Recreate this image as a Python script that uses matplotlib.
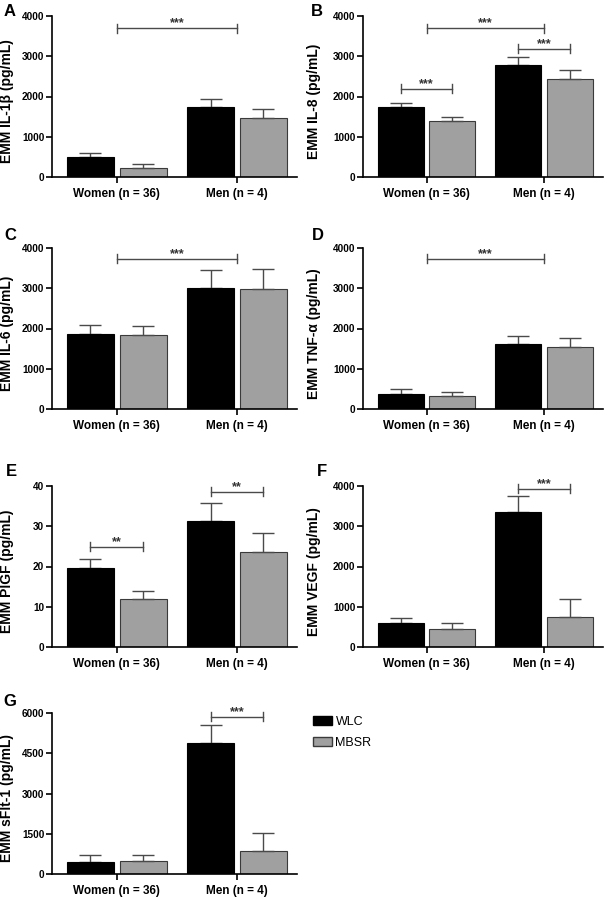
import matplotlib.pyplot as plt
from matplotlib.patches import Patch

plt.rcParams['font.family'] = ['Liberation Sans', 'DejaVu Sans']

groups = ["Women (n = 36)", "Men (n = 4)"]

# mean values + upper error (SEM) per panel, WLC / MBSR
il1b_wlc = [490, 1744];   il1b_wlc_err = [97, 198]
il1b_mbsr = [231, 1471];  il1b_mbsr_err = [91, 215]

il8_wlc = [1744, 2777];   il8_wlc_err = [99, 206]
il8_mbsr = [1380, 2430];  il8_mbsr_err = [116, 223]

il6_wlc = [1863, 3006];   il6_wlc_err = [215, 447]
il6_mbsr = [1830, 2981];  il6_mbsr_err = [240, 489]

tnf_wlc = [381, 1615];    tnf_wlc_err = [108, 199]
tnf_mbsr = [323, 1540];   tnf_mbsr_err = [107, 216]

pigf_wlc = [19.7, 31.3];  pigf_wlc_err = [2.1, 4.5]
pigf_mbsr = [11.85, 23.5]; pigf_mbsr_err = [2.05, 4.7]

vegf_wlc = [584, 3350];   vegf_wlc_err = [132, 395]
vegf_mbsr = [444, 749];   vegf_mbsr_err = [140, 436]

sflt_wlc = [458, 4886];   sflt_wlc_err = [235, 656]
sflt_mbsr = [482, 854];   sflt_mbsr_err = [211, 692]

# significance brackets: (x start, x end, y, label)
il1b_sig = [(0, 1, 3694, "***")]
il8_sig = [(0, 1, 3694, "***"), (-0.22, 0.22, 2198, "***"), (0.78, 1.22, 3190, "***")]
il6_sig = [(0, 1, 3727, "***")]
tnf_sig = [(0, 1, 3727, "***")]
pigf_sig = [(-0.22, 0.22, 24.85, "**"), (0.78, 1.22, 38.6, "**")]
vegf_sig = [(0.78, 1.22, 3934, "***")]
sflt_sig = [(0.78, 1.22, 5852, "***")]

W, H = 611, 900
fig = plt.figure(figsize=(W / 100, H / 100), dpi=100, facecolor="white")

BLACK = "#000000"
GREY = "#a0a0a0"
ERRC = "#4a4a4a"


def make_ax(left, right, top, bottom):
    return fig.add_axes([left / W, 1 - bottom / H, (right - left) / W, (bottom - top) / H])


def panel(ax, letter, letter_xy, ylabel, label_x, wlc, wlc_err, mbsr, mbsr_err, yticks, sig):
    off, bw = 0.22, 0.39
    xs = [0, 1]
    ax.bar([x - off for x in xs], wlc, bw, color=BLACK, edgecolor=BLACK, linewidth=0.8, zorder=2)
    ax.bar([x + off for x in xs], mbsr, bw, color=GREY, edgecolor="#3a3a3a", linewidth=0.8, zorder=2)
    ax.errorbar([x - off for x in xs], wlc, yerr=[[0, 0], wlc_err], fmt="none",
                ecolor=ERRC, elinewidth=1.0, capsize=8, capthick=1.0, zorder=1)
    ax.errorbar([x + off for x in xs], mbsr, yerr=[[0, 0], mbsr_err], fmt="none",
                ecolor=ERRC, elinewidth=1.0, capsize=8, capthick=1.0, zorder=3)

    top = yticks[-1]
    for x1, x2, y, lab in sig:
        ax.plot([x1, x2], [y, y], color=ERRC, lw=1.0, clip_on=False)
        tick = top * 0.028
        ax.plot([x1, x1], [y - tick, y + tick], color=ERRC, lw=1.0, clip_on=False)
        ax.plot([x2, x2], [y - tick, y + tick], color=ERRC, lw=1.0, clip_on=False)
        ax.annotate(lab, ((x1 + x2) / 2, y), xytext=(0, 1.2), textcoords="offset points",
                    ha="center", va="baseline", fontsize=9, fontweight="bold", color="#333333")

    ax.set_xlim(-0.54, 1.5)
    ax.set_ylim(0, top)
    ax.set_yticks(yticks)
    ax.set_yticklabels([str(t) for t in yticks], fontsize=7.2, fontweight="bold")
    ax.set_xticks(xs)
    ax.set_xticklabels(groups, fontsize=8.5, fontweight="bold")
    ax.tick_params(axis="both", direction="out", width=1.2, length=4, pad=1.5)
    ax.tick_params(axis="x", pad=4)
    for s in ["top", "right"]:
        ax.spines[s].set_visible(False)
    for s in ["left", "bottom"]:
        ax.spines[s].set_linewidth(1.2)
    ax.set_ylabel(ylabel, fontsize=10, fontweight="bold")
    ax.yaxis.set_label_coords(label_x, 0.47)
    fig.text(letter_xy[0] / W, 1 - letter_xy[1] / H, letter, fontsize=12,
             fontweight="bold", ha="center", va="center")


tops = [16, 248, 486, 713]
h = 161
lx, rx = (52, 297), (363, 603)

axA = make_ax(lx[0], lx[1], tops[0], tops[0] + h)
axB = make_ax(rx[0], rx[1], tops[0], tops[0] + h)
axC = make_ax(lx[0], lx[1], tops[1], tops[1] + h)
axD = make_ax(rx[0], rx[1], tops[1], tops[1] + h)
axE = make_ax(lx[0], lx[1], tops[2], tops[2] + h)
axF = make_ax(rx[0], rx[1], tops[2], tops[2] + h)
axG = make_ax(lx[0], lx[1], tops[3], tops[3] + h)

t4000 = [0, 1000, 2000, 3000, 4000]
panel(axA, "A", (10, 11), "EMM IL-1β (pg/mL)", -0.155, il1b_wlc, il1b_wlc_err, il1b_mbsr, il1b_mbsr_err, t4000, il1b_sig)
panel(axB, "B", (317, 12), "EMM IL-8 (pg/mL)", -0.175, il8_wlc, il8_wlc_err, il8_mbsr, il8_mbsr_err, t4000, il8_sig)
panel(axC, "C", (10, 235), "EMM IL-6 (pg/mL)", -0.155, il6_wlc, il6_wlc_err, il6_mbsr, il6_mbsr_err, t4000, il6_sig)
panel(axD, "D", (318, 235), "EMM TNF-α (pg/mL)", -0.175, tnf_wlc, tnf_wlc_err, tnf_mbsr, tnf_mbsr_err, t4000, tnf_sig)
panel(axE, "E", (11, 471), "EMM PlGF (pg/mL)", -0.155, pigf_wlc, pigf_wlc_err, pigf_mbsr, pigf_mbsr_err, [0, 10, 20, 30, 40], pigf_sig)
panel(axF, "F", (322, 471), "EMM VEGF (pg/mL)", -0.175, vegf_wlc, vegf_wlc_err, vegf_mbsr, vegf_mbsr_err, t4000, vegf_sig)
panel(axG, "G", (10, 701), "EMM sFlt-1 (pg/mL)", -0.155, sflt_wlc, sflt_wlc_err, sflt_mbsr, sflt_mbsr_err, [0, 1500, 3000, 4500, 6000], sflt_sig)

handles = [Patch(facecolor=BLACK, edgecolor=BLACK, label="WLC"),
           Patch(facecolor=GREY, edgecolor="#3a3a3a", label="MBSR")]
fig.legend(handles=handles, loc="upper left", bbox_to_anchor=(313 / W, 1 - 716 / H),
           frameon=False, fontsize=9, handlelength=1.5, handleheight=0.7,
           handletextpad=0.3, labelspacing=0.7, borderpad=0, borderaxespad=0)

plt.savefig("out.png", dpi=100, facecolor="white")
